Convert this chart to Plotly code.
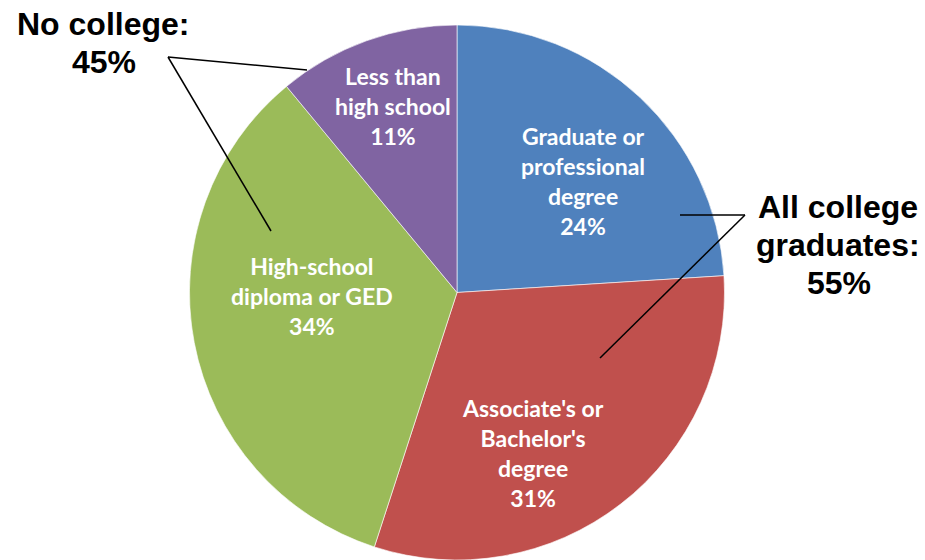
import plotly.graph_objects as go

categories = ["Graduate or professional degree", "Associate's or Bachelor's degree",
              "High-school diploma or GED", "Less than high school"]
label_lines = [["Graduate or", "professional", "degree"],
               ["Associate's or", "Bachelor's", "degree"],
               ["High-school", "diploma or GED"],
               ["Less than", "high school"]]
shares = [24, 31, 34, 11]
colors = ["#4F81BD", "#C0504D", "#9BBB59", "#8064A2"]

group_lines = [["No college:", "45%"], ["All college", "graduates:", "55%"]]

W, H = 925, 560


def px(x, y):
    return x / W, 1 - y / H


fig = go.Figure()
fig.add_trace(go.Pie(
    labels=categories, values=shares, sort=False, direction="clockwise",
    rotation=0, textinfo="none", hoverinfo="label+percent",
    marker=dict(colors=colors, line=dict(color="rgba(255,255,255,0.6)", width=1)),
    domain=dict(x=[189.5 / W, 724.5 / W], y=[0, 1 - 25 / H]),
    showlegend=False,
))

# slice label block centres (pixels)
label_pos = [(583, 181), (533, 453), (312, 296), (393, 106)]
annotations = []
for lines, v, (cx, cy) in zip(label_lines, shares, label_pos):
    txt = "<br>".join(lines + [f"{v}%"])
    x, y = px(cx, cy)
    annotations.append(dict(x=x, y=y, xref="paper", yref="paper", text=txt,
                            xanchor="center", yanchor="middle",
                            showarrow=False, align="center",
                            font=dict(family="Lato", size=23, color="white", weight="bold")))

# group labels, one annotation per line (line centre pixels)
grp_line_pos = [[(103, 24), (104, 62)], [(838, 207), (838, 245), (839, 283)]]
for lines, poss in zip(group_lines, grp_line_pos):
    for t, (cx, cy) in zip(lines, poss):
        x, y = px(cx, cy)
        annotations.append(dict(x=x, y=y, xref="paper", yref="paper", text=t,
                                xanchor="center", yanchor="middle",
                                showarrow=False, align="center",
                                font=dict(family="Liberation Sans", size=32, color="black",
                                          weight="bold")))

leader_lines = [((168, 57), (307, 70)), ((168, 57), (271, 231)),
                ((745, 215), (680, 215)), ((745, 215), (600, 358))]
shapes = []
for (a, b) in leader_lines:
    x0, y0 = px(*a)
    x1, y1 = px(*b)
    shapes.append(dict(type="line", xref="paper", yref="paper", x0=x0, y0=y0, x1=x1, y1=y1,
                       line=dict(color="black", width=1.5)))

fig.update_layout(width=W, height=H, margin=dict(l=0, r=0, t=0, b=0),
                  paper_bgcolor="white", plot_bgcolor="white",
                  annotations=annotations, shapes=shapes)
fig.write_html("out.html", config={"displayModeBar": False},
               post_script="document.body.style.margin='0';document.body.style.overflow='hidden';")
